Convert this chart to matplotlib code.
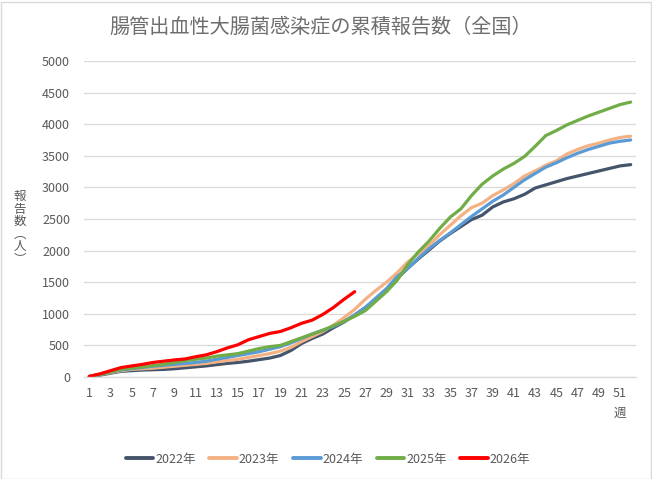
import matplotlib
matplotlib.use("Agg")
import matplotlib.pyplot as plt
from matplotlib.patches import Rectangle

plt.rcParams['font.family'] = ['Noto Sans CJK JP', 'DejaVu Sans']

weeks = list(range(1, 53))

y2022 = [5, 30, 60, 90, 100, 110, 115, 120, 130, 145, 160, 175, 195, 215, 230, 250,
         275, 300, 340, 420, 530, 610, 680, 780, 870, 980, 1100, 1230, 1380, 1560,
         1720, 1870, 2010, 2150, 2270, 2380, 2490, 2560, 2690, 2770, 2820, 2890,
         2990, 3040, 3090, 3140, 3180, 3220, 3260, 3300, 3340, 3360]
y2023 = [10, 40, 70, 100, 120, 130, 140, 155, 170, 185, 200, 215, 240, 260, 280, 310,
         340, 370, 410, 470, 560, 640, 720, 820, 940, 1070, 1230, 1370, 1500, 1650,
         1820, 1950, 2080, 2250, 2400, 2550, 2680, 2750, 2870, 2960, 3060, 3180,
         3260, 3350, 3420, 3530, 3600, 3660, 3700, 3750, 3790, 3810]
y2024 = [10, 40, 80, 110, 130, 150, 170, 185, 200, 215, 230, 250, 280, 310, 340, 370,
         400, 440, 480, 540, 610, 680, 740, 800, 880, 980, 1100, 1250, 1400, 1590,
         1720, 1880, 2030, 2160, 2280, 2410, 2540, 2660, 2780, 2880, 3000, 3120,
         3220, 3320, 3390, 3470, 3540, 3600, 3650, 3700, 3730, 3750]
y2025 = [10, 40, 80, 120, 140, 160, 180, 200, 230, 260, 280, 300, 330, 350, 370, 410,
         450, 480, 500, 560, 620, 680, 740, 810, 880, 960, 1050, 1200, 1350, 1530,
         1780, 1980, 2150, 2350, 2530, 2660, 2870, 3050, 3180, 3290, 3380, 3490,
         3650, 3820, 3900, 3990, 4060, 4130, 4190, 4250, 4310, 4350]
y2026 = [10, 50, 100, 150, 175, 200, 230, 250, 270, 285, 320, 350, 400, 460, 510, 590,
         640, 690, 720, 780, 850, 900, 990, 1100, 1230, 1350]

series_labels = ['2022年', '2023年', '2024年', '2025年', '2026年']
series_values = [y2022, y2023, y2024, y2025, y2026]
series_colors = ['#44546A', '#F4B183', '#5B9BD5', '#70AD47', '#FF0000']

title_text = '腸管出血性大腸菌感染症の累積報告数（全国）'
ylabel_text = '報\n告\n数\n︵\n人\n︶'
xlabel_text = '週'
yticks = list(range(0, 5001, 500))
xticks = list(range(1, 52, 2))

W, H = 652, 479
fig = plt.figure(figsize=(W / 100, H / 100), dpi=100)
ax = fig.add_axes([84 / W, 1 - 377 / H, (636 - 84) / W, (377 - 61) / H])

for lab, vals, col in zip(series_labels, series_values, series_colors):
    ax.plot(weeks[:len(vals)], vals, color=col, lw=2.3, label=lab,
            solid_capstyle='round', solid_joinstyle='round')

ax.set_xlim(0.5, 52.5)
ax.set_ylim(0, 5000)
ax.set_yticks(yticks)
ax.set_xticks(xticks)
ax.grid(axis='y', color='#D9D9D9', lw=0.9)
ax.set_axisbelow(True)
for s in ['top', 'right', 'left']:
    ax.spines[s].set_visible(False)
ax.spines['bottom'].set_color('#D9D9D9')
ax.spines['bottom'].set_linewidth(0.9)
ax.tick_params(axis='both', length=0, labelsize=9, colors='#595959', pad=5)
ax.tick_params(axis='x', pad=7)
ax.tick_params(axis='y', pad=10)

fig.text(321 / W, 1 - 27 / H, title_text, ha='center', va='center',
         fontsize=14.5, color='#6E6E6E')
fig.text(20 / W, 1 - 228 / H, ylabel_text, ha='center', va='center',
         fontsize=9, color='#595959', linespacing=0.95)
fig.text(620 / W, 1 - 413 / H, xlabel_text, ha='center', va='center',
         fontsize=9, color='#595959')

leg = fig.legend(loc='center', bbox_to_anchor=(328 / W, 1 - 459 / H), ncol=5,
                 frameon=False, fontsize=9, handlelength=2.2, handletextpad=0.15,
                 columnspacing=1.1)
for t in leg.get_texts():
    t.set_color('#595959')
for h in leg.legend_handles:
    h.set_linewidth(2.8)

fig.patches.append(Rectangle((0.5 / W, 0.5 / H), (W - 2) / W, (H - 2) / H,
                             transform=fig.transFigure, fill=False,
                             edgecolor='#D9D9D9', lw=1))

fig.savefig('out.png', dpi=100)
